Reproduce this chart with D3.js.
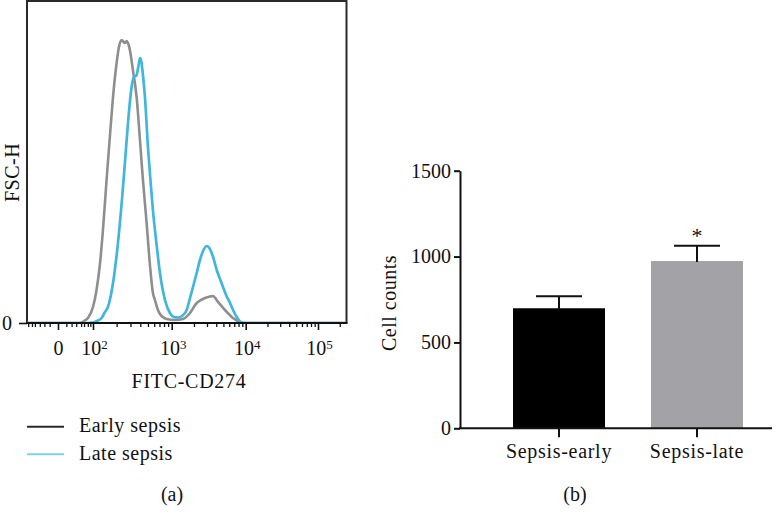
<!DOCTYPE html>
<html>
<head>
<meta charset="utf-8">
<script src="https://cdn.jsdelivr.net/npm/d3@7"></script>
<style>
  html, body { margin: 0; padding: 0; background: #fff; }
  svg { display: block; }
  text { font-family: "Liberation Serif", "Times New Roman", serif; fill: #111; }
</style>
</head>
<body>
<svg id="chart" width="778" height="527"></svg>
<script>
// ---------- Data: panel (a) flow cytometry histogram ----------
const earlyX = [-59, 17, 30, 51, 100, 111, 123, 134, 149, 164, 180, 200, 214, 232, 248, 255, 268, 282, 295, 322, 359, 396, 432, 481, 530, 578, 613, 670, 710, 863, 1109, 1422, 1767, 2176, 2820, 3295, 3616, 4225, 5250, 6735, 8370, 9780, 247000];
const earlyY = [0, 0, 2, 5, 16, 33, 60, 93, 143, 186, 226, 260, 276, 283, 280.5, 280, 282, 279, 273, 253, 226, 183, 143, 100, 58, 30, 23, 13, 9, 4, 3, 4, 10, 20, 25, 26.5, 27, 21, 13, 5, 1, 0, 0];
const lateX = [-59, 51, 100, 112, 129, 142, 155, 180, 208, 232, 255, 279, 310, 332, 357, 379, 396, 413, 432, 458, 500, 538, 578, 644, 710, 822, 950, 1074, 1227, 1377, 1595, 1767, 1941, 2176, 2410, 2690, 2972, 3192, 3473, 3733, 4058, 4497, 4935, 5505, 6139, 6845, 7557, 8370, 9190, 247000];
const lateY = [0, 0, 0.5, 2, 5, 11, 16, 40, 80, 120, 160, 200, 236, 246, 247.5, 257, 265, 261, 248, 226, 176, 143, 113, 78, 50, 23, 10, 6, 5.5, 7, 13, 25, 36, 50, 63, 73, 77, 75.5, 70, 63, 53, 44, 36, 27, 20, 12, 6, 1.5, 0, 0];
const histSeries = ["Early sepsis", "Late sepsis"];
const xMajorTicks = [0, 100, 1000, 10000, 100000];
const xMajorLabels = [["0", ""], ["10", "2"], ["10", "3"], ["10", "4"], ["10", "5"]];
const xMinorTicks = [-50, -30, -20, -10, -5, -2, 2, 5, 10, 20, 30, 50, 70,
  200, 300, 400, 500, 600, 700, 800, 900,
  2000, 3000, 4000, 5000, 6000, 7000, 8000, 9000,
  20000, 30000, 40000, 50000, 60000, 70000, 80000, 90000, 200000];
const histYMax = 322;

// ---------- Data: panel (b) bar chart ----------
const barCategories = ["Sepsis-early", "Sepsis-late"];
const barValues = [699, 974];
const barErrors = [70, 89];
const barSignif = ["", "*"];
const barYTicks = [0, 500, 1000, 1500];

const svg = d3.select("#chart");

// ================= Panel (a) =================
const fL = 27, fR = 346.5, fT = 1, fB = 323;
const xL = d3.scaleSymlog().constant(1)
  .domain(xMajorTicks)
  .range([58, 93, 171.7, 245.7, 318]);
const yL = d3.scaleLinear().domain([0, histYMax]).range([fB, fT]);

// frame
svg.append("path")
  .attr("d", `M${fL},${fB} L${fL},${fT} L${fR},${fT} L${fR},${fB}`)
  .attr("fill", "none").attr("stroke", "#2a2a2a").attr("stroke-width", 2);

const line = d3.line().x(d => xL(d[0])).y(d => yL(d[1])).curve(d3.curveMonotoneX);
const earlyData = earlyX.map((x, i) => [x, earlyY[i]]);
const lateData = lateX.map((x, i) => [x, lateY[i]]);

svg.append("clipPath").attr("id", "clipA")
  .append("rect").attr("x", fL).attr("y", fT).attr("width", fR - fL).attr("height", fB - fT + 1);

const gCurves = svg.append("g").attr("clip-path", "url(#clipA)");
gCurves.append("path").datum(earlyData).attr("d", line)
  .attr("fill", "none").attr("stroke", "#8e8e8e").attr("stroke-width", 2.6);
gCurves.append("path").datum(lateData).attr("d", line)
  .attr("fill", "none").attr("stroke", "#40b6dc").attr("stroke-width", 2.7);

// x axis (major ticks)
const gxa = svg.append("g").attr("transform", `translate(0,${fB})`);
gxa.call(d3.axisBottom(xL).tickValues(xMajorTicks).tickSize(7).tickSizeOuter(0).tickFormat(""));
gxa.select(".domain").remove();
gxa.selectAll(".tick line").attr("stroke", "#111").attr("stroke-width", 1.6);
const gxm = svg.append("g").attr("transform", `translate(0,${fB})`);
gxm.call(d3.axisBottom(xL).tickValues(xMinorTicks).tickSize(4).tickSizeOuter(0).tickFormat(""));
gxm.select(".domain").remove();
gxm.selectAll(".tick line").attr("stroke", "#111").attr("stroke-width", 1.3);
svg.append("line").attr("x1", fL - 1).attr("x2", fR + 1).attr("y1", fB).attr("y2", fB)
  .attr("stroke", "#111").attr("stroke-width", 2);

// x tick labels with superscripts
xMajorTicks.forEach((v, i) => {
  const t = svg.append("text").attr("x", xL(v) + (i === 0 ? 0.5 : 1.5)).attr("y", 355)
    .attr("text-anchor", "middle").style("font-size", "20px");
  t.append("tspan").text(xMajorLabels[i][0]);
  if (xMajorLabels[i][1]) {
    t.append("tspan").attr("dy", -6).style("font-size", "13px").text(xMajorLabels[i][1]);
  }
});

// y axis "0"
const gya = svg.append("g").attr("transform", `translate(${fL},0)`);
gya.call(d3.axisLeft(yL).tickValues([0]).tickSize(8).tickPadding(7).tickSizeOuter(0).tickFormat(d3.format("d")));
gya.select(".domain").remove();
gya.selectAll(".tick line").attr("stroke", "#111").attr("stroke-width", 1.6);
gya.selectAll(".tick text").style("font-size", "20px").style("font-family", "Liberation Serif, serif").attr("fill", "#111");

// axis titles
svg.append("text").attr("transform", "translate(19,172.5) rotate(-90)")
  .attr("text-anchor", "middle").style("font-size", "20px").style("letter-spacing", "0.5px").text("FSC-H");
svg.append("text").attr("x", 189).attr("y", 388)
  .attr("text-anchor", "middle").style("font-size", "20px").style("letter-spacing", "0.7px").text("FITC-CD274");

// legend
const legendColors = ["#2a2a2a", "#7fd0e3"];
const legendY = [426.7, 454.3];
histSeries.forEach((s, i) => {
  svg.append("line").attr("x1", 27).attr("x2", 64).attr("y1", legendY[i]).attr("y2", legendY[i])
    .attr("stroke", legendColors[i]).attr("stroke-width", 2);
  svg.append("text").attr("x", 79).attr("y", legendY[i] + 5.5)
    .style("font-size", "20px").style("letter-spacing", "0.5px").text(s);
});

svg.append("text").attr("x", 172).attr("y", 501).attr("text-anchor", "middle")
  .style("font-size", "20px").text("(a)");

// ================= Panel (b) =================
const bL = 460, bR = 772;
const xB = d3.scaleBand().domain(barCategories).range([444, 812]).paddingInner(1 / 3).paddingOuter(0.5);
const yB = d3.scaleLinear().domain([0, 1500]).range([428.3, 170.7]);

// bars
const barColors = ["#000000", "#a3a3a7"];
svg.append("g").selectAll("rect").data(barCategories).join("rect")
  .attr("x", d => xB(d)).attr("width", xB.bandwidth())
  .attr("y", (d, i) => yB(barValues[i]))
  .attr("height", (d, i) => yB(0) - yB(barValues[i]))
  .attr("fill", (d, i) => barColors[i]);

// error bars
const capW = 46;
barCategories.forEach((c, i) => {
  const cx = xB(c) + xB.bandwidth() / 2;
  const top = yB(barValues[i] + barErrors[i]);
  svg.append("line").attr("x1", cx).attr("x2", cx).attr("y1", yB(barValues[i]) + 1).attr("y2", top)
    .attr("stroke", "#111").attr("stroke-width", 2);
  svg.append("line").attr("x1", cx - capW / 2).attr("x2", cx + capW / 2).attr("y1", top).attr("y2", top)
    .attr("stroke", "#111").attr("stroke-width", 2);
  if (barSignif[i]) {
    svg.append("text").attr("x", cx).attr("y", top - 3).attr("text-anchor", "middle")
      .style("font-size", "22px").text(barSignif[i]);
  }
});

// y axis
const gyb = svg.append("g").attr("transform", `translate(${bL},0)`);
gyb.call(d3.axisLeft(yB).tickValues(barYTicks).tickSize(6).tickPadding(3).tickSizeOuter(0).tickFormat(d3.format("d")));
gyb.select(".domain").attr("stroke", "#111").attr("stroke-width", 2);
gyb.selectAll(".tick line").attr("stroke", "#111").attr("stroke-width", 2);
gyb.selectAll(".tick text").style("font-size", "20px").style("font-family", "Liberation Serif, serif").attr("fill", "#111");

// x axis
const gxb = svg.append("g").attr("transform", `translate(0,${yB(0)})`);
gxb.call(d3.axisBottom(xB).tickSize(9).tickPadding(7).tickSizeOuter(0));
gxb.select(".domain").remove();
gxb.selectAll(".tick line").attr("stroke", "#111").attr("stroke-width", 2);
gxb.selectAll(".tick text").style("font-size", "20px").style("font-family", "Liberation Serif, serif")
  .style("letter-spacing", "0.7px").attr("fill", "#111");
svg.append("line").attr("x1", bL - 1).attr("x2", bR).attr("y1", yB(0)).attr("y2", yB(0))
  .attr("stroke", "#111").attr("stroke-width", 2);

svg.append("text").attr("transform", "translate(396,303) rotate(-90)")
  .attr("text-anchor", "middle").style("font-size", "20px").style("letter-spacing", "0.5px").text("Cell counts");

svg.append("text").attr("x", 575).attr("y", 501).attr("text-anchor", "middle")
  .style("font-size", "20px").text("(b)");
</script>
</body>
</html>
